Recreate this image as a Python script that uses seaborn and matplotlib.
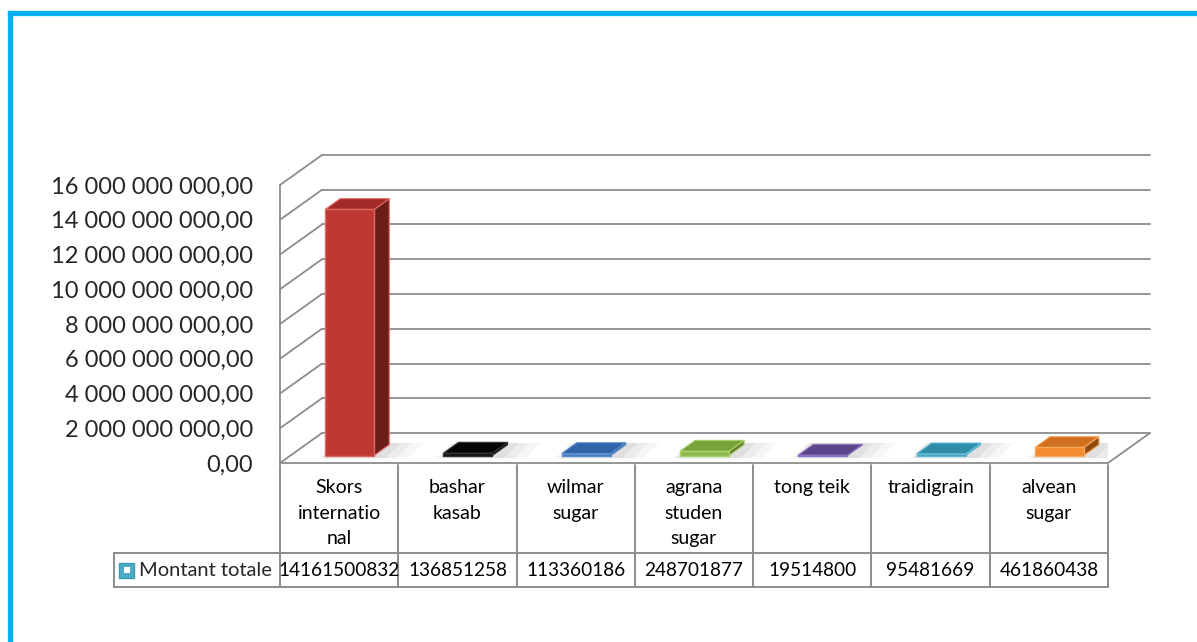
import numpy as np
import pandas as pd
import matplotlib
matplotlib.use("Agg")
import matplotlib.pyplot as plt
import matplotlib.transforms as mtransforms
from matplotlib.patches import Polygon, Rectangle
from matplotlib.lines import Line2D
import seaborn as sns

categories = ["Skors\ninternatio\nnal", "bashar\nkasab", "wilmar\nsugar",
              "agrana\nstuden\nsugar", "tong teik", "traidigrain", "alvean\nsugar"]
values = [14161500832, 136851258, 113360186, 248701877, 19514800, 95481669, 461860438]
series_name = "Montant totale"
y_ticks = np.arange(0, 16e9 + 1, 2e9)

front_colors = ["#BF3833", "#111111", "#3C6FB4", "#8DB94E", "#6A529A", "#3C9BB8", "#F58A2E"]
side_colors = ["#6B1D1A", "#000000", "#24497A", "#5E7E2E", "#45356A", "#236A80", "#8E4A10"]
top_colors = ["#A32A27", "#050505", "#2F64A8", "#77A33A", "#5C4589", "#2F8CA8", "#D0701E"]
edge_colors = ["#E06A63", "#333333", "#5A8FD0", "#A9D06A", "#8A72BE", "#5FBAD4", "#F9A860"]

sns.set_style("white")
plt.rcParams["font.family"] = ["Lato", "DejaVu Sans"]

W, H = 1197, 642
fig = plt.figure(figsize=(W / 100, H / 100), dpi=100)

# front plane of the 3D box, in pixels
left_px, right_px, bottom_px, top_px = 280, 1108, 463, 185
ax = fig.add_axes([left_px / W, 1 - bottom_px / H,
                   (right_px - left_px) / W, (bottom_px - top_px) / H])
ax.set_xlim(-0.5, len(categories) - 0.5)
ax.set_ylim(0, 16e9)

# depth vector in data units (42 px right, 30 px up)
px_x = (right_px - left_px) / len(categories)
px_y = (bottom_px - top_px) / 16e9
DX, DY = 42 / px_x, 30 / px_y

df = pd.DataFrame({"company": categories, "montant": values})
sns.barplot(data=df, x="company", y="montant", hue="company", palette=front_colors,
            saturation=1, width=0.414, legend=False, ax=ax, zorder=5)

grid_kw = dict(color="#8C8C8C", lw=1.3, clip_on=False, zorder=1)
x0, x1 = -0.5, len(categories) - 0.5
for v in y_ticks:
    ax.add_line(Line2D([x0 + DX, x1 + DX], [v + DY, v + DY], **grid_kw))
    ax.add_line(Line2D([x0, x0 + DX], [v, v + DY], **grid_kw))
ax.add_line(Line2D([x0, x0], [0, 16e9], **grid_kw))
ax.add_line(Line2D([x0, x1, x1 + DX], [0, 0, DY], **grid_kw))

d0, d1 = 0.25, 0.61
for i, bar in enumerate(ax.patches[:len(values)]):
    bx0 = bar.get_x() + d0 * DX
    bw = bar.get_width()
    by0 = d0 * DY
    h = bar.get_height()
    bar.set_x(bx0)
    bar.set_y(by0)
    bar.set_edgecolor(edge_colors[i])
    bar.set_linewidth(1.0)
    bx1, by1 = bx0 + bw, by0 + h
    dd = d1 - d0
    # soft shadow on the floor
    for k, a in enumerate([0.07, 0.08, 0.10]):
        grow = 0.14 - 0.045 * k
        ax.add_patch(Polygon([(bx0 - grow * 0.4, by0 - 0.15e9), (bx1 + grow * 2.0, by0 - 0.15e9),
                              (bx1 + grow * 2.0 + dd * DX, by0 + dd * DY + 0.1e9),
                              (bx0 - grow * 0.4 + dd * DX, by0 + dd * DY + 0.1e9)],
                             closed=True, facecolor="#808080", edgecolor="none",
                             alpha=a, zorder=2))
    ax.add_patch(Polygon([(bx1, by0), (bx1 + dd * DX, by0 + dd * DY),
                          (bx1 + dd * DX, by1 + dd * DY), (bx1, by1)],
                         closed=True, facecolor=side_colors[i], edgecolor=edge_colors[i],
                         lw=0.8, zorder=4))
    ax.add_patch(Polygon([(bx0, by1), (bx1, by1), (bx1 + dd * DX, by1 + dd * DY),
                          (bx0 + dd * DX, by1 + dd * DY)],
                         closed=True, facecolor=top_colors[i], edgecolor=edge_colors[i],
                         lw=0.8, zorder=4))

def fmt(v, pos):
    s = f"{v:,.2f}".replace(",", " ").replace(".", ",")
    return s

ax.set_yticks(y_ticks)
ax.yaxis.set_major_formatter(plt.FuncFormatter(fmt))
ax.tick_params(axis="y", length=0, pad=19.5, labelsize=17)
ax.set_xticks([])
ax.set_xlabel("")
ax.set_ylabel("")
for s in ax.spines.values():
    s.set_visible(False)

# data table under the chart
blend = mtransforms.blended_transform_factory(ax.transData, fig.transFigure)
def fy(p):
    return 1 - p / H

tbl_kw = dict(color="#8C8C8C", lw=1.4, clip_on=False)
row_top, row_mid, row_bot = 465, 553, 587
for k in range(len(categories) + 1):
    fig.add_artist(Line2D([k - 0.5, k - 0.5], [fy(row_top), fy(row_bot)], transform=blend, **tbl_kw))
fig.add_artist(Line2D([x0, x1], [fy(row_mid), fy(row_mid)], transform=blend, **tbl_kw))
fig.add_artist(Line2D([x0, x1], [fy(row_bot), fy(row_bot)], transform=blend, **tbl_kw))
fig.add_artist(Line2D([114 / W, left_px / W], [fy(row_mid), fy(row_mid)], **tbl_kw))
fig.add_artist(Line2D([114 / W, left_px / W], [fy(row_bot), fy(row_bot)], **tbl_kw))
fig.add_artist(Line2D([114 / W, 114 / W], [fy(row_mid), fy(row_bot)], **tbl_kw))

for i, (c, v) in enumerate(zip(categories, values)):
    fig.text(i, fy(479), c, transform=blend, ha="center", va="top",
             fontsize=14, linespacing=1.62, color="black")
    fig.text(i, fy(570.5), str(v), transform=blend, ha="center", va="center",
             fontsize=13.7, color="black")

fig.text(139 / W, fy(570.5), series_name, ha="left", va="center", fontsize=14.5)
fig.add_artist(Rectangle((119 / W, fy(577.5)), 15 / W, 15 / H, facecolor="#4BACC6",
                         edgecolor="#3D9AB3", transform=fig.transFigure))
fig.add_artist(Rectangle((123.5 / W, fy(573)), 6 / W, 6 / H, facecolor="white",
                         edgecolor="none", transform=fig.transFigure))

# outer cyan frame
frame_kw = dict(color="#00B0F0", lw=3.8, solid_capstyle="projecting")
fig.add_artist(Line2D([9.5 / W, 9.5 / W], [0, fy(12.5)], **frame_kw))
fig.add_artist(Line2D([9.5 / W, 1.0], [fy(12.5), fy(12.5)], **frame_kw))

fig.savefig("out.png", dpi=100)
